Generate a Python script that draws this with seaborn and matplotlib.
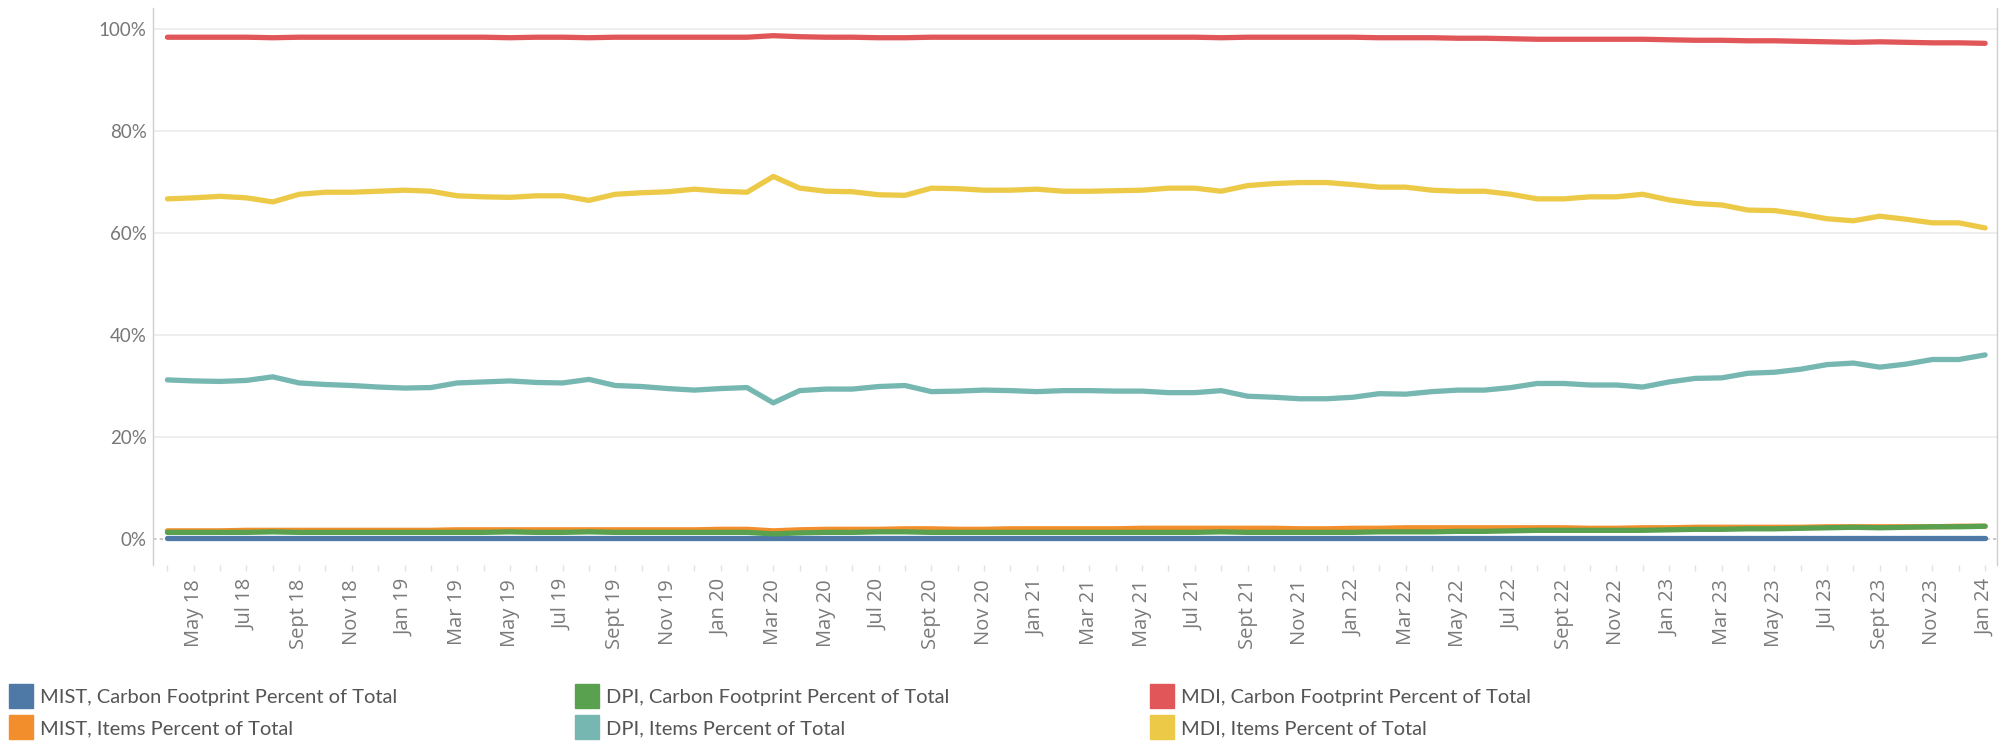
import numpy as np
import pandas as pd
import matplotlib
matplotlib.use("Agg")
import matplotlib.pyplot as plt
from matplotlib.lines import Line2D
from matplotlib.ticker import PercentFormatter, FixedLocator
import seaborn as sns

sns.set_theme(style="white")
plt.rcParams["font.family"] = ["Lato", "DejaVu Sans"]

# ---------------- data ----------------
months = pd.date_range("2018-04-01", periods=70, freq="MS")

tick_labels = ["May 18", "Jul 18", "Sept 18", "Nov 18", "Jan 19", "Mar 19", "May 19",
               "Jul 19", "Sept 19", "Nov 19", "Jan 20", "Mar 20", "May 20", "Jul 20",
               "Sept 20", "Nov 20", "Jan 21", "Mar 21", "May 21", "Jul 21", "Sept 21",
               "Nov 21", "Jan 22", "Mar 22", "May 22", "Jul 22", "Sept 22", "Nov 22",
               "Jan 23", "Mar 23", "May 23", "Jul 23", "Sept 23", "Nov 23", "Jan 24"]

mist_carbon = [0.1, 0.1, 0.1, 0.1, 0.1, 0.1, 0.1, 0.1, 0.1, 0.1,
               0.1, 0.1, 0.1, 0.1, 0.1, 0.1, 0.1, 0.1, 0.1, 0.1,
               0.1, 0.1, 0.1, 0.1, 0.1, 0.1, 0.1, 0.1, 0.1, 0.1,
               0.1, 0.1, 0.1, 0.1, 0.1, 0.1, 0.1, 0.1, 0.1, 0.1,
               0.1, 0.1, 0.1, 0.1, 0.1, 0.1, 0.1, 0.1, 0.1, 0.1,
               0.1, 0.1, 0.1, 0.1, 0.1, 0.1, 0.1, 0.1, 0.1, 0.1,
               0.1, 0.1, 0.1, 0.1, 0.1, 0.1, 0.1, 0.1, 0.1, 0.1]

dpi_carbon = [1.3, 1.3, 1.3, 1.3, 1.4, 1.3, 1.3, 1.3, 1.3, 1.3,
              1.3, 1.3, 1.3, 1.4, 1.3, 1.3, 1.4, 1.3, 1.3, 1.3,
              1.3, 1.3, 1.3, 1.0, 1.2, 1.3, 1.3, 1.4, 1.4, 1.3,
              1.3, 1.3, 1.3, 1.3, 1.3, 1.3, 1.3, 1.3, 1.3, 1.3,
              1.4, 1.3, 1.3, 1.3, 1.3, 1.3, 1.4, 1.4, 1.4, 1.5,
              1.5, 1.6, 1.7, 1.7, 1.7, 1.7, 1.7, 1.8, 1.9, 1.9,
              2.0, 2.0, 2.1, 2.2, 2.3, 2.2, 2.3, 2.4, 2.4, 2.5]

mdi_carbon = [98.4, 98.4, 98.4, 98.4, 98.3, 98.4, 98.4, 98.4, 98.4, 98.4,
              98.4, 98.4, 98.4, 98.3, 98.4, 98.4, 98.3, 98.4, 98.4, 98.4,
              98.4, 98.4, 98.4, 98.7, 98.5, 98.4, 98.4, 98.3, 98.3, 98.4,
              98.4, 98.4, 98.4, 98.4, 98.4, 98.4, 98.4, 98.4, 98.4, 98.4,
              98.3, 98.4, 98.4, 98.4, 98.4, 98.4, 98.3, 98.3, 98.3, 98.2,
              98.2, 98.1, 98.0, 98.0, 98.0, 98.0, 98.0, 97.9, 97.8, 97.8,
              97.7, 97.7, 97.6, 97.5, 97.4, 97.5, 97.4, 97.3, 97.3, 97.2]

mist_items = [1.6, 1.6, 1.6, 1.7, 1.7, 1.7, 1.7, 1.7, 1.7, 1.7,
              1.7, 1.8, 1.8, 1.8, 1.8, 1.8, 1.8, 1.8, 1.8, 1.8,
              1.8, 1.9, 1.9, 1.6, 1.8, 1.9, 1.9, 1.9, 2.0, 2.0,
              1.9, 1.9, 2.0, 2.0, 2.0, 2.0, 2.0, 2.1, 2.1, 2.1,
              2.1, 2.1, 2.1, 2.0, 2.0, 2.1, 2.1, 2.2, 2.2, 2.2,
              2.2, 2.2, 2.2, 2.2, 2.1, 2.1, 2.2, 2.2, 2.3, 2.3,
              2.3, 2.3, 2.3, 2.4, 2.4, 2.4, 2.4, 2.4, 2.5, 2.5]

dpi_items = [31.2, 31.0, 30.9, 31.1, 31.8, 30.6, 30.3, 30.1, 29.8, 29.6,
             29.7, 30.6, 30.8, 31.0, 30.7, 30.6, 31.3, 30.1, 29.9, 29.5,
             29.2, 29.5, 29.7, 26.7, 29.1, 29.4, 29.4, 29.9, 30.1, 28.9,
             29.0, 29.2, 29.1, 28.9, 29.1, 29.1, 29.0, 29.0, 28.7, 28.7,
             29.1, 28.0, 27.8, 27.5, 27.5, 27.8, 28.5, 28.4, 28.9, 29.2,
             29.2, 29.7, 30.5, 30.5, 30.2, 30.2, 29.8, 30.8, 31.5, 31.6,
             32.5, 32.7, 33.3, 34.2, 34.5, 33.7, 34.3, 35.2, 35.2, 36.1]

mdi_items = [66.7, 66.9, 67.2, 66.9, 66.1, 67.6, 68.0, 68.0, 68.2, 68.4,
             68.2, 67.3, 67.1, 67.0, 67.3, 67.3, 66.4, 67.6, 67.9, 68.1,
             68.6, 68.2, 68.0, 71.1, 68.8, 68.2, 68.1, 67.5, 67.4, 68.8,
             68.7, 68.4, 68.4, 68.6, 68.2, 68.2, 68.3, 68.4, 68.8, 68.8,
             68.2, 69.3, 69.7, 69.9, 69.9, 69.5, 69.0, 69.0, 68.4, 68.2,
             68.2, 67.6, 66.7, 66.7, 67.1, 67.1, 67.6, 66.5, 65.8, 65.5,
             64.5, 64.4, 63.7, 62.8, 62.4, 63.3, 62.7, 62.0, 62.0, 61.0]

series_names = ["MIST, Carbon Footprint Percent of Total",
                "MIST, Items Percent of Total",
                "DPI, Carbon Footprint Percent of Total",
                "DPI, Items Percent of Total",
                "MDI, Carbon Footprint Percent of Total",
                "MDI, Items Percent of Total"]
series_values = [mist_carbon, mist_items, dpi_carbon, dpi_items, mdi_carbon, mdi_items]
series_colors = ["#4E79A7", "#F28E2B", "#59A14F", "#76B7B2", "#E15759", "#EDC948"]

# draw order (later = on top)
draw_order = ["MIST, Carbon Footprint Percent of Total",
              "MIST, Items Percent of Total",
              "DPI, Carbon Footprint Percent of Total",
              "DPI, Items Percent of Total",
              "MDI, Items Percent of Total",
              "MDI, Carbon Footprint Percent of Total"]

frames = []
for name, vals in zip(series_names, series_values):
    frames.append(pd.DataFrame({"pos": np.arange(len(months)), "month": months,
                                "value": vals, "series": name}))
df = pd.concat(frames, ignore_index=True)
palette = dict(zip(series_names, series_colors))

# ---------------- figure ----------------
fig = plt.figure(figsize=(20.06, 7.41), dpi=100)
ax = fig.add_axes([0.0765, 0.2375, 0.919, 0.7515])

ax.axhline(0, color="#bdbdbd", lw=1.2, ls=(0, (2, 2)), zorder=1)

for name in draw_order:
    sub = df[df["series"] == name]
    sns.lineplot(data=sub, x="pos", y="value", color=palette[name], linewidth=3.8,
                 ax=ax, legend=False, zorder=3, solid_capstyle="round",
                 solid_joinstyle="round")

ax.set_xlim(-0.53, len(months) - 1 + 0.45)
ax.set_ylim(-5.1, 104.1)
ax.set_xlabel("")
ax.set_ylabel("")

ax.set_yticks([0, 20, 40, 60, 80, 100])
ax.yaxis.set_major_formatter(PercentFormatter(decimals=0))
ax.yaxis.grid(True, color="#ededed", lw=1.3)
ax.yaxis.get_gridlines()[0].set_visible(False)
ax.xaxis.grid(False)
ax.set_axisbelow(True)

major_pos = np.arange(1, len(months), 2)
ax.set_xticks(major_pos)
ax.set_xticklabels(tick_labels, rotation=90, family=["Open Sans", "DejaVu Sans"])
ax.xaxis.set_minor_locator(FixedLocator(np.arange(0, len(months))))

ax.tick_params(axis="y", length=0, pad=5, labelsize=13.5, labelcolor="#777777")
ax.tick_params(axis="x", which="both", direction="out", length=4, width=1,
               color="#e2e2e2", pad=6, labelsize=14.5, labelcolor="#7a7a7a", bottom=True)

for s in ["top", "bottom"]:
    ax.spines[s].set_visible(False)
for s in ["left", "right"]:
    ax.spines[s].set_visible(True)
    ax.spines[s].set_color("#cfcfcf")
    ax.spines[s].set_linewidth(1.0)

# ---------------- legend ----------------
col_x = [0.0052, 0.2875, 0.5742]
for c in range(3):
    handles = []
    for r in range(2):
        i = c * 2 + r
        handles.append(Line2D([], [], marker="s", ls="", markersize=17,
                              color=series_colors[i], label=series_names[i]))
    leg = fig.legend(handles=handles, loc="upper left", bbox_to_anchor=(col_x[c], 0.07),
                     frameon=False, fontsize=14.5, handlelength=1.0, handletextpad=0.45,
                     labelspacing=0.68, borderpad=0, borderaxespad=0)
    for t in leg.get_texts():
        t.set_color("#555555")

fig.savefig("out.png", dpi=100, facecolor="white")
